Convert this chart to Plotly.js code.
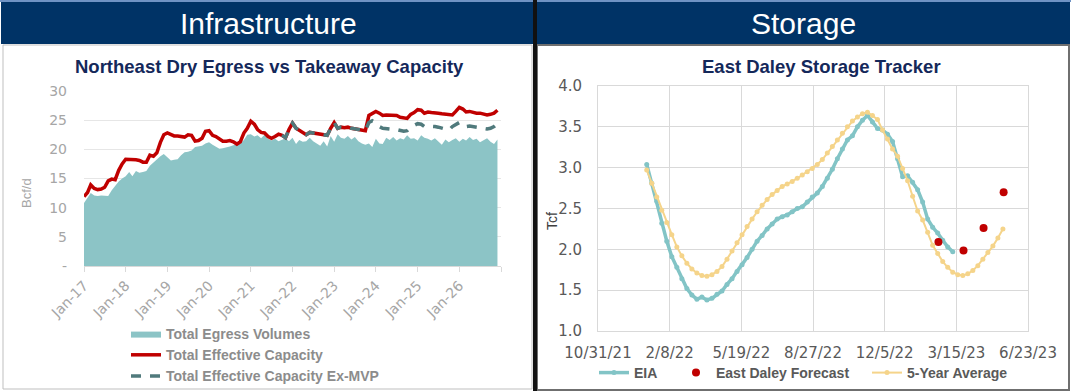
<!DOCTYPE html>
<html>
<head>
<meta charset="utf-8">
<script src="https://cdn.plot.ly/plotly-3.0.1.min.js"></script>
<style>
html,body{margin:0;padding:0;background:#fff;}
#chart{width:1071px;height:391px;}
</style>
</head>
<body>
<div id="chart"></div>
<script>
// ---------------- Left chart data (monthly, Jan-2017 .. Dec-2026) ----------------
const egressStart = [2017, 1];
const egressVolumes = [
  10.8, 11.6, 12.5, 12.1, 12.0, 12.1, 12.1, 12.0, 13.0, 13.8, 14.5, 15.0,
  15.4, 16.1, 15.4, 16.3, 16.0, 16.1, 16.3, 17.2, 17.8, 18.2, 18.8, 19.2,
  18.6, 18.1, 18.2, 18.3, 19.0, 19.5, 19.6, 19.8, 20.4, 20.5, 20.6, 21.0,
  21.2, 20.8, 20.5, 20.1, 20.2, 20.3, 20.5, 20.7, 20.9, 21.0, 21.6, 22.5,
  22.6, 22.2, 22.4, 21.9, 22.5, 21.8, 21.5, 21.8, 21.4, 21.7, 21.9, 21.4,
  22.0, 20.9, 21.6, 21.3, 21.4, 22.0, 21.4, 21.0, 20.6, 21.4, 20.5, 22.3,
  21.3, 22.6, 22.0, 21.8, 22.3, 21.7, 22.1, 21.4, 21.0, 20.8, 21.0, 20.4,
  21.8, 21.0, 20.9, 22.0, 21.6, 22.1, 21.5, 21.9, 21.7, 22.4, 21.8, 21.9,
  21.5, 22.4, 22.0, 21.8, 21.5, 21.9, 21.4, 20.8, 21.7, 21.2, 21.6, 21.9,
  21.3, 21.8, 21.5, 22.1, 21.6, 21.8, 21.2, 21.6, 21.9, 21.3, 20.9, 21.7
];
const effectiveCapacity = [
  11.9, 12.6, 13.9, 13.3, 13.1, 13.2, 13.5, 14.6, 14.9, 14.8, 16.4, 17.5,
  18.3, 18.3, 18.2, 18.2, 18.1, 17.8, 17.8, 19.0, 18.8, 19.4, 21.2, 22.5,
  22.8, 22.5, 22.3, 22.3, 22.2, 22.1, 22.5, 22.4, 21.4, 21.5, 21.9, 23.1,
  23.2, 22.4, 22.2, 21.8, 21.4, 21.4, 21.5, 21.3, 20.9, 21.3, 22.8, 23.6,
  24.8, 24.3, 23.4, 22.9, 22.8, 22.2, 21.9, 22.2, 22.6, 22.4, 22.0, 23.4,
  24.5, 23.6, 23.3, 22.8, 22.5, 22.9, 22.8, 22.8, 22.7, 22.5, 22.4, 23.6,
  24.6, 23.6, 23.8, 23.7, 23.8, 23.6, 23.5, 23.4, 23.3, 23.2, 25.8, 26.2,
  26.5, 26.2, 25.8, 25.9, 25.9, 25.8, 25.8, 25.5, 25.4, 25.3, 26.0, 26.3,
  26.8, 26.7, 26.2, 26.4, 26.3, 26.3, 26.2, 26.1, 26.0, 26.0, 25.9, 26.5,
  27.2, 26.9, 26.4, 26.5, 26.3, 26.2, 26.2, 26.1, 25.9, 26.0, 26.2, 26.7
];
const capacityExMVP = [
  null, null, null, null, null, null, null, null, null, null, null, null,
  null, null, null, null, null, null, null, null, null, null, null, null,
  null, null, null, null, null, null, null, null, null, null, null, null,
  null, null, null, null, null, null, null, null, null, null, null, null,
  null, null, null, null, null, null, null, null, null, 22.4, 22.0, 23.4,
  24.5, 23.6, 23.3, 22.8, 22.5, 22.9, 22.8, 22.8, 22.7, 22.5, 22.4, 23.6,
  24.6, 23.6, 23.8, 23.7, 23.8, 23.6, 23.5, 23.4, 23.3, 23.2, 24.6, 24.9,
  24.5, 23.9, 23.6, 23.5, 23.5, 23.4, 23.4, 23.2, 23.1, 23.2, 23.8, 24.1,
  24.4, 24.3, 23.9, 24.0, 24.0, 23.9, 23.8, 23.6, 23.4, 23.3, 23.9, 24.3,
  24.6, 24.3, 23.9, 24.0, 23.9, 23.8, 23.7, 23.6, 23.5, 23.6, 23.9, 24.4
];
const leftTickVals = ['2017-01-01','2018-01-01','2019-01-01','2020-01-01','2021-01-01',
  '2022-01-01','2023-01-01','2024-01-01','2025-01-01','2026-01-01','2027-01-01'];
const leftTickText = ['Jan-17','Jan-18','Jan-19','Jan-20','Jan-21','Jan-22','Jan-23',
  'Jan-24','Jan-25','Jan-26',''];
const leftYTickVals = [0, 5, 10, 15, 20, 25, 30];
const leftYTickText = ['-', '5', '10', '15', '20', '25', '30'];

// ---------------- Right chart data (weekly, Tcf) ----------------
const eiaStart = '2022-01-07';
const eiaValues = [
  3.04, 2.81, 2.59, 2.32, 2.10, 1.91, 1.78, 1.64, 1.52, 1.44, 1.39, 1.415, 1.38,
  1.40, 1.45, 1.49, 1.57, 1.64, 1.73, 1.81, 1.90, 2.00, 2.10, 2.17, 2.25,
  2.31, 2.37, 2.40, 2.42, 2.46, 2.50, 2.52, 2.58, 2.64, 2.69, 2.77, 2.87,
  2.98, 3.11, 3.23, 3.34, 3.39, 3.50, 3.58, 3.64, 3.56, 3.48, 3.46, 3.41,
  3.32, 3.11, 2.89,
  2.90, 2.82, 2.73, 2.58, 2.37, 2.27, 2.20, 2.11, 2.03, 1.97
];
const fiveYearStart = '2022-01-07';
const fiveYearValues = [
  2.97, 2.81, 2.64, 2.48, 2.33, 2.18, 2.03, 1.92, 1.83, 1.76, 1.71, 1.68, 1.67,
  1.69, 1.73, 1.79, 1.88, 1.98, 2.08, 2.18, 2.28, 2.37, 2.46, 2.54, 2.61,
  2.67, 2.72, 2.77, 2.80, 2.83, 2.87, 2.91, 2.95, 2.99, 3.04, 3.10, 3.18,
  3.26, 3.34, 3.42, 3.50, 3.57, 3.62, 3.66, 3.68, 3.64, 3.59, 3.46, 3.35,
  3.23, 3.14, 2.99,
  2.84, 2.65, 2.47, 2.36, 2.21, 2.05, 1.95, 1.85, 1.78, 1.72, 1.69, 1.68,
  1.70, 1.74, 1.80, 1.88, 1.96, 2.04, 2.14, 2.25
];
const forecastDates = ['2023-02-18', '2023-03-25', '2023-04-22', '2023-05-20'];
const forecastValues = [2.09, 1.985, 2.26, 2.70];
const rightTickVals = ['2021-10-31','2022-02-08','2022-05-19','2022-08-27','2022-12-05','2023-03-15','2023-06-23'];
const rightTickText = ['10/31/21','2/8/22','5/19/22','8/27/22','12/5/22','3/15/23','6/23/23'];

// ---------------- helpers (date axes only) ----------------
function monthDates(start, n) {
  const out = [];
  for (let i = 0; i < n; i++) {
    const y = start[0] + Math.floor((start[1] - 1 + i) / 12);
    const m = ((start[1] - 1 + i) % 12) + 1;
    out.push(y + '-' + String(m).padStart(2, '0') + '-01');
  }
  return out;
}
function weekDates(start, n) {
  const out = [];
  const d0 = new Date(start + 'T00:00:00Z');
  for (let i = 0; i < n; i++) {
    const d = new Date(d0.getTime() + i * 7 * 86400000);
    out.push(d.toISOString().slice(0, 10));
  }
  return out;
}
const leftDates = monthDates(egressStart, egressVolumes.length);
const eiaDates = weekDates(eiaStart, eiaValues.length);
const fiveYearDates = weekDates(fiveYearStart, fiveYearValues.length);

const W = 1071, H = 391;
const px = x => x / W;
const py = y => 1 - y / H;

const NAVY = '#003366';
const TITLE_NAVY = '#14285A';
const SANS = 'Liberation Sans, Arial, sans-serif';
const DEJA = 'DejaVu Sans, sans-serif';

const traces = [
  {
    x: leftDates, y: egressVolumes, type: 'scatter', mode: 'lines',
    name: 'Total Egress Volumes', fill: 'tozeroy', fillcolor: '#8CC4C6',
    line: {color: '#8CC4C6', width: 0}, xaxis: 'x', yaxis: 'y',
    legend: 'legend', legendgroup: 'a', hoverinfo: 'skip'
  },
  {
    x: leftDates, y: effectiveCapacity, type: 'scatter', mode: 'lines',
    name: 'Total Effective Capacity', line: {color: '#C00000', width: 3.5},
    xaxis: 'x', yaxis: 'y', legend: 'legend', legendgroup: 'b'
  },
  {
    x: leftDates, y: capacityExMVP, type: 'scatter', mode: 'lines',
    name: 'Total Effective Capacity Ex-MVP', line: {color: '#507A7C', width: 3.5, dash: '10px,9px'},
    xaxis: 'x', yaxis: 'y', legend: 'legend', legendgroup: 'c', connectgaps: false
  },
  {
    x: eiaDates, y: eiaValues, type: 'scatter', mode: 'lines+markers',
    name: 'EIA', line: {color: '#82C4C6', width: 3.5}, marker: {color: '#82C4C6', size: 5},
    xaxis: 'x2', yaxis: 'y2', legend: 'legend2'
  },
  {
    x: forecastDates, y: forecastValues, type: 'scatter', mode: 'markers',
    name: 'East Daley Forecast', marker: {color: '#C00000', size: 8},
    xaxis: 'x2', yaxis: 'y2', legend: 'legend3'
  },
  {
    x: fiveYearDates, y: fiveYearValues, type: 'scatter', mode: 'lines+markers',
    name: '5-Year Average', line: {color: '#F5D48A', width: 2}, marker: {color: '#F5D48A', size: 5},
    xaxis: 'x2', yaxis: 'y2', legend: 'legend4'
  }
];

const legendFontR = {family: SANS, size: 14, color: '#595959', weight: 'bold'};

const layout = {
  width: W, height: H,
  margin: {l: 0, r: 0, t: 0, b: 0, pad: 0, autoexpand: false},
  paper_bgcolor: '#ffffff', plot_bgcolor: 'rgba(0,0,0,0)',
  showlegend: true,
  xaxis: {
    type: 'date', domain: [px(84), px(501)], anchor: 'y', automargin: false,
    range: ['2017-01-01', '2027-01-01'],
    tickmode: 'array', tickvals: leftTickVals, ticktext: leftTickText,
    tickangle: -45, tickfont: {family: DEJA, size: 14, color: '#A6A6A6'},
    showgrid: false, zeroline: false,
    showline: true, linecolor: '#D9D9D9', linewidth: 1,
    ticks: 'outside', ticklen: 5, tickcolor: '#D9D9D9'
  },
  yaxis: {
    domain: [py(266), py(91)], anchor: 'x', range: [0, 30], automargin: false,
    tickmode: 'array', tickvals: leftYTickVals, ticktext: leftYTickText,
    tickfont: {family: DEJA, size: 14, color: '#A6A6A6'},
    showgrid: true, gridcolor: '#E6E6E6', zeroline: false, showline: false,
    ticks: '', ticklabelstandoff: 16
  },
  xaxis2: {
    type: 'date', domain: [px(598), px(1028)], anchor: 'y2', automargin: false,
    range: ['2021-10-31', '2023-06-23'],
    tickmode: 'array', tickvals: rightTickVals, ticktext: rightTickText,
    tickangle: 0, tickfont: {family: DEJA, size: 15, color: '#595959'},
    showgrid: true, gridcolor: '#D9D9D9', zeroline: false,
    showline: true, mirror: true, linecolor: '#D9D9D9', ticks: '', ticklabelstandoff: 8
  },
  yaxis2: {
    domain: [py(331), py(86)], anchor: 'x2', range: [1, 4], dtick: 0.5, automargin: false,
    tickformat: '.1f', tickfont: {family: DEJA, size: 15, color: '#595959'},
    showgrid: true, gridcolor: '#D9D9D9', zeroline: false,
    showline: true, mirror: true, linecolor: '#D9D9D9', ticks: '', ticklabelstandoff: 12
  },
  legend: {
    x: px(126), y: py(318), xanchor: 'left', yanchor: 'top', orientation: 'v',
    bgcolor: 'rgba(0,0,0,0)', traceorder: 'grouped', tracegroupgap: 0,
    font: {family: SANS, size: 14, color: '#8C8C8C', weight: 'bold'}
  },
  legend2: {x: px(594), y: py(357), xanchor: 'left', yanchor: 'top', orientation: 'h', bgcolor: 'rgba(0,0,0,0)', font: legendFontR},
  legend3: {x: px(676), y: py(357), xanchor: 'left', yanchor: 'top', orientation: 'h', bgcolor: 'rgba(0,0,0,0)', font: legendFontR},
  legend4: {x: px(867), y: py(357), xanchor: 'left', yanchor: 'top', orientation: 'h', bgcolor: 'rgba(0,0,0,0)', font: legendFontR},
  shapes: [
    {type: 'rect', xref: 'paper', yref: 'paper', x0: px(3), x1: px(532), y0: py(389), y1: py(45), line: {color: '#BFBFBF', width: 1}, fillcolor: 'rgba(0,0,0,0)', layer: 'below'},
    {type: 'rect', xref: 'paper', yref: 'paper', x0: px(537), x1: px(1069), y0: py(390), y1: py(45), line: {color: '#6F6F6F', width: 2}, fillcolor: 'rgba(0,0,0,0)', layer: 'below'},
    {type: 'rect', xref: 'paper', yref: 'paper', x0: 0, x1: 1, y0: py(2), y1: 1, line: {width: 0}, fillcolor: '#6F93C4', layer: 'below'},
    {type: 'rect', xref: 'paper', yref: 'paper', x0: px(1), x1: px(533), y0: py(44), y1: py(2), line: {width: 0}, fillcolor: NAVY, layer: 'below'},
    {type: 'rect', xref: 'paper', yref: 'paper', x0: px(537), x1: px(1070), y0: py(44), y1: py(2), line: {width: 0}, fillcolor: NAVY, layer: 'below'},
    {type: 'rect', xref: 'paper', yref: 'paper', x0: px(533), x1: px(537), y0: 0, y1: 1, line: {width: 0}, fillcolor: '#111111', layer: 'below'}
  ],
  annotations: [
    {text: 'Infrastructure', xref: 'paper', yref: 'paper', x: px(268), y: py(24), xanchor: 'center', yanchor: 'middle', showarrow: false, font: {family: SANS, size: 30, color: '#ffffff'}},
    {text: 'Storage', xref: 'paper', yref: 'paper', x: px(803), y: py(24), xanchor: 'center', yanchor: 'middle', showarrow: false, font: {family: SANS, size: 30, color: '#ffffff'}},
    {text: 'Northeast Dry Egress vs Takeaway Capacity', xref: 'paper', yref: 'paper', x: px(269), y: py(66), xanchor: 'center', yanchor: 'middle', showarrow: false, font: {family: SANS, size: 18.5, color: TITLE_NAVY, weight: 'bold'}},
    {text: 'East Daley Storage Tracker', xref: 'paper', yref: 'paper', x: px(821), y: py(66), xanchor: 'center', yanchor: 'middle', showarrow: false, font: {family: SANS, size: 18.5, color: TITLE_NAVY, weight: 'bold'}},
    {text: 'Bcf/d', xref: 'paper', yref: 'paper', x: px(27), y: py(193), xanchor: 'center', yanchor: 'middle', textangle: -90, showarrow: false, font: {family: SANS, size: 13, color: '#A6A6A6'}},
    {text: 'Tcf', xref: 'paper', yref: 'paper', x: px(552), y: py(221), xanchor: 'center', yanchor: 'middle', textangle: -90, showarrow: false, font: {family: SANS, size: 14, color: '#404040'}}
  ]
};

Plotly.newPlot('chart', traces, layout, {displayModeBar: false, staticPlot: true});
</script>
</body>
</html>
